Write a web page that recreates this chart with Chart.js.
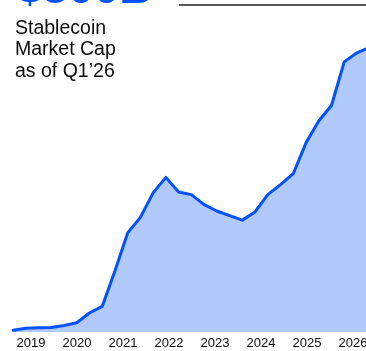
<!DOCTYPE html>
<html><head><meta charset="utf-8">
<script src="https://cdn.jsdelivr.net/npm/chart.js@4"></script>
<style>
html,body{margin:0;padding:0;width:366px;height:351px;overflow:hidden;background:#fff;}
#wrap{position:absolute;left:0;top:0;width:400px;height:354px;}
#big{position:absolute;left:17px;top:-36px;font:bold 46px "Liberation Sans",Arial,sans-serif;color:#0052ff;line-height:46px;white-space:nowrap;}
#rule{position:absolute;left:179px;top:4px;width:200px;height:2px;background:#5a5a5a;}
#label{position:absolute;left:15px;top:16.7px;font:19.5px "Liberation Sans",Arial,sans-serif;line-height:21.7px;color:#0a0b0d;white-space:nowrap;}
</style>
</head><body>
<div id="wrap"><canvas id="c"></canvas></div>
<div id="big">$300B</div>
<div id="rule"></div>
<div id="label">Stablecoin<br>Market Cap<br>as of Q1’26</div>
<script>
const quarters = ["Q1 2019","Q2 2019","Q3 2019","Q4 2019","Q1 2020","Q2 2020","Q3 2020","Q4 2020",
  "Q1 2021","Q2 2021","Q3 2021","Q4 2021","Q1 2022","Q2 2022","Q3 2022","Q4 2022",
  "Q1 2023","Q2 2023","Q3 2023","Q4 2023","Q1 2024","Q2 2024","Q3 2024","Q4 2024",
  "Q1 2025","Q2 2025","Q3 2025","Q4 2025","Q1 2026"];
const marketCapB = [1.9,4.1,4.6,5.0,7.2,10.2,20.9,28.1,
  67,109,126,153,170,154,151,140,
  133,128,123,132,151,162,174,208,
  232,249,297,307,313];
const yearTicks = [2019,2020,2021,2022,2023,2024,2025,2026];

new Chart(document.getElementById('c'), {
  type: 'line',
  data: {
    labels: quarters,
    datasets: [{
      data: marketCapB,
      borderColor: '#0052ff',
      backgroundColor: '#b1c9fd',
      borderWidth: 3,
      fill: 'origin',
      tension: 0,
      pointRadius: 0,
      borderJoinStyle: 'round',
      borderCapStyle: 'round',
      xAxisID: 'x',
      yAxisID: 'y'
    }]
  },
  options: {
    responsive: true,
    maintainAspectRatio: false,
    animation: false,
    layout: { padding: { left: 13, right: 30.3, top: 0, bottom: 0 } },
    plugins: { legend: { display: false }, tooltip: { enabled: false } },
    scales: {
      x: { type: 'category', display: false },
      years: {
        type: 'linear',
        position: 'bottom',
        min: yearTicks[0] - 18/46,
        max: yearTicks[0] - 18/46 + 356.7/46,
        grid: { display: false },
        border: { display: false },
        afterBuildTicks: (s) => { s.ticks = yearTicks.map(v => ({ value: v })); },
        afterFit: (s) => { s.height = 22; },
        ticks: {
          padding: -4,
          color: '#0a0b0d',
          font: { family: '"Liberation Sans", Arial, sans-serif', size: 13 },
          maxRotation: 0,
          autoSkip: false,
          callback: (v) => String(v)
        }
      },
      y: { display: false, min: 0, max: 365 }
    }
  }
});
</script>
</body></html>
